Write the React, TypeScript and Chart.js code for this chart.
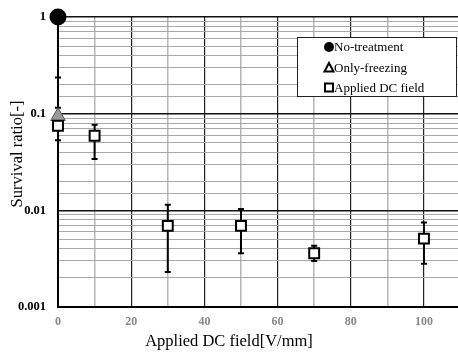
import React, { useEffect, useRef } from "react";
import { Chart, registerables } from "chart.js";
Chart.register(...registerables);

const xTickValues = [0, 10, 20, 30, 40, 50, 60, 70, 80, 90, 100];
const noTreatX = [0];
const noTreatY = [1];
const freezeX = [0];
const freezeY = [0.094];
const freezeLow = [0.094];
const freezeHigh = [0.236];
const dcX = [0, 10, 30, 50, 70, 100];
const dcY = [0.075, 0.059, 0.0069, 0.0069, 0.0036, 0.0051];
const dcLow = [0.053, 0.034, 0.0023, 0.0036, 0.0030, 0.0028];
const dcHigh = [0.115, 0.077, 0.0114, 0.0103, 0.0043, 0.0075];
const legendLabels = ["No-treatment", "Only-freezing", "Applied DC field"];
const xTitle = "Applied DC field[V/mm]";
const yTitle = "Survival ratio[-]";

const errorBars = {
  id: "errorBars",
  beforeDatasetsDraw(chart: any) {
    const { ctx, scales } = chart;
    const xs = scales.x, ys = scales.y;
    const sets = [
      { x: freezeX, lo: freezeLow, hi: freezeHigh },
      { x: dcX, lo: dcLow, hi: dcHigh },
    ];
    ctx.save();
    ctx.strokeStyle = "#000";
    ctx.lineWidth = 2;
    sets.forEach((s) => {
      s.x.forEach((xv, i) => {
        const px = xs.getPixelForValue(xv);
        const pl = ys.getPixelForValue(s.lo[i]);
        const ph = ys.getPixelForValue(s.hi[i]);
        ctx.beginPath();
        ctx.moveTo(px, pl);
        ctx.lineTo(px, ph);
        ctx.moveTo(px - 3, pl);
        ctx.lineTo(px + 3, pl);
        ctx.moveTo(px - 3, ph);
        ctx.lineTo(px + 3, ph);
        ctx.stroke();
      });
    });
    ctx.restore();
  },
};

const overlay = {
  id: "overlay",
  afterDraw(chart: any) {
    const { ctx } = chart;
    ctx.save();
    const bx = 297, by = 37, bw = 159, bh = 59;
    ctx.fillStyle = "#fff";
    ctx.fillRect(bx, by, bw, bh);
    ctx.strokeStyle = "#222";
    ctx.lineWidth = 1;
    ctx.strokeRect(bx + 0.5, by + 0.5, bw, bh);
    ctx.font = "13px 'Liberation Serif', serif";
    ctx.fillStyle = "#000";
    ctx.textBaseline = "middle";
    ctx.textAlign = "left";
    const rows = [47, 67.5, 87.5];
    const mx = 329;
    ctx.beginPath();
    ctx.arc(mx, rows[0], 5, 0, Math.PI * 2);
    ctx.fillStyle = "#000";
    ctx.fill();
    ctx.beginPath();
    ctx.moveTo(mx, rows[1] - 4.5);
    ctx.lineTo(mx + 4.5, rows[1] + 4);
    ctx.lineTo(mx - 4.5, rows[1] + 4);
    ctx.closePath();
    ctx.fillStyle = "#fff";
    ctx.fill();
    ctx.lineWidth = 2;
    ctx.strokeStyle = "#000";
    ctx.stroke();
    ctx.fillStyle = "#fff";
    ctx.fillRect(mx - 4, rows[2] - 4, 8, 8);
    ctx.strokeRect(mx - 4, rows[2] - 4, 8, 8);
    ctx.fillStyle = "#000";
    legendLabels.forEach((t, i) => ctx.fillText(t, 334, rows[i] + 1));
    ctx.font = "16.5px 'Liberation Serif', serif";
    ctx.textAlign = "center";
    ctx.fillText(xTitle, 229, 342);
    ctx.translate(18, 154);
    ctx.rotate(-Math.PI / 2);
    ctx.fillText(yTitle, 0, 0);
    ctx.restore();
  },
};

export default function App() {
  const ref = useRef<HTMLCanvasElement>(null);
  useEffect(() => {
    document.body.style.margin = "0";
    const chart = new Chart(ref.current!, {
      type: "scatter",
      data: {
        datasets: [
          {
            label: legendLabels[2],
            data: dcX.map((x, i) => ({ x, y: dcY[i] })),
            pointStyle: "rect",
            pointRadius: 7,
            backgroundColor: "#fff",
            borderColor: "#000",
            borderWidth: 2,
            clip: false,
          },
          {
            label: legendLabels[1],
            data: freezeX.map((x, i) => ({ x, y: freezeY[i] })),
            pointStyle: "triangle",
            pointRadius: 8.5,
            backgroundColor: "#9a9a9a",
            borderColor: "#555",
            borderWidth: 1,
            clip: false,
          },
          {
            label: legendLabels[0],
            data: noTreatX.map((x, i) => ({ x, y: noTreatY[i] })),
            pointStyle: "circle",
            pointRadius: 8.5,
            backgroundColor: "#000",
            borderColor: "#000",
            borderWidth: 0,
            clip: false,
          },
        ],
      },
      options: {
        responsive: false,
        animation: false,
        layout: { autoPadding: false, padding: { top: 17, right: 0, left: 0, bottom: 0 } },
        plugins: { legend: { display: false }, tooltip: { enabled: false } },
        scales: {
          x: {
            type: "linear",
            min: 0,
            max: 109.3,
            afterBuildTicks: (s: any) => {
              s.ticks = xTickValues.map((v) => ({ value: v }));
            },
            afterFit: (s: any) => {
              s.height = 46;
              s.paddingLeft = 0;
              s.paddingRight = 0;
            },
            border: { color: "#000", width: 2 },
            grid: {
              color: (c: any) => (c.tick && c.tick.value % 20 === 0 ? "#222" : "#b5b5b5"),
              lineWidth: (c: any) => (c.tick && c.tick.value % 20 === 0 ? 1.2 : 1.5),
              drawTicks: false,
            },
            ticks: {
              padding: 8,
              color: "#888",
              font: { family: "'Liberation Serif', serif", size: 12, weight: "bold" },
              callback: (v: any) => (v % 20 === 0 ? String(v) : ""),
              maxRotation: 0,
              autoSkip: false,
            },
          },
          y: {
            type: "logarithmic",
            min: 0.001,
            max: 1,
            afterFit: (s: any) => {
              s.width = 58;
              s.paddingTop = 0;
              s.paddingBottom = 0;
            },
            border: { color: "#000", width: 2 },
            grid: {
              color: (c: any) => {
                const v = c.tick ? c.tick.value : 0;
                const l = Math.log10(v);
                return Math.abs(l - Math.round(l)) < 1e-6 ? "#111" : "#a8a8a8";
              },
              lineWidth: (c: any) => {
                const v = c.tick ? c.tick.value : 0;
                const l = Math.log10(v);
                return Math.abs(l - Math.round(l)) < 1e-6 ? 1.5 : 1;
              },
              drawTicks: false,
            },
            ticks: {
              padding: 12,
              color: "#000",
              autoSkip: false,
              font: { family: "'Liberation Serif', serif", size: 12.5, weight: "bold" },
              callback: (v: any) => {
                const l = Math.log10(v);
                if (Math.abs(l - Math.round(l)) < 1e-6) {
                  return ["1", "0.1", "0.01", "0.001"][-Math.round(l)];
                }
                return "";
              },
            },
          },
        },
      },
      plugins: [errorBars, overlay],
    } as any);
    return () => chart.destroy();
  }, []);
  return <canvas ref={ref} width={458} height={353} style={{ display: "block" }} />;
}
